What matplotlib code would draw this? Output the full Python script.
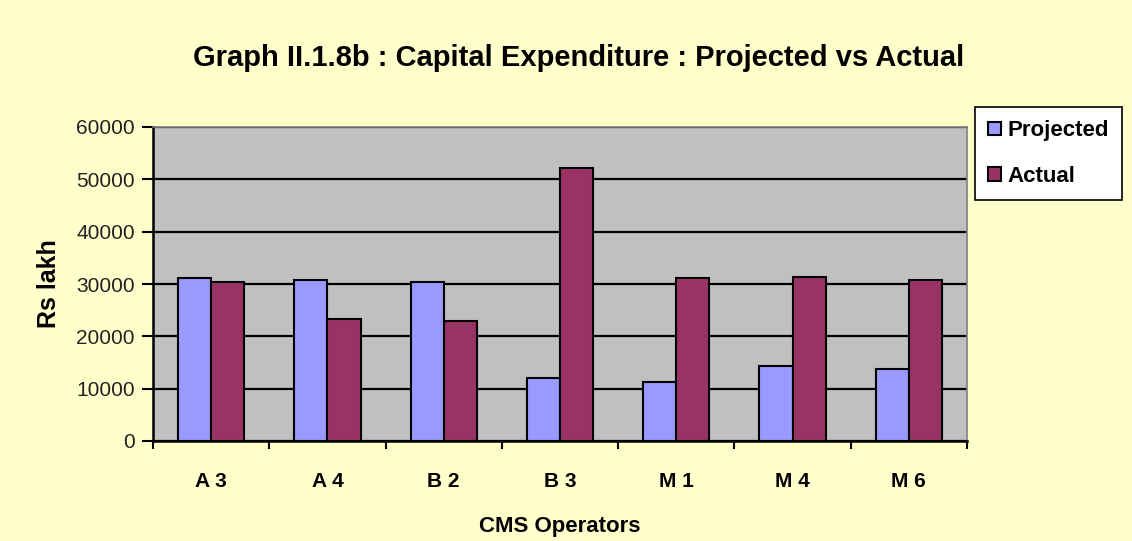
import matplotlib.pyplot as plt
import numpy as np

operators = ['A 3', 'A 4', 'B 2', 'B 3', 'M 1', 'M 4', 'M 6']
projected = [31200, 30700, 30300, 12000, 11200, 14300, 13800]
actual = [30400, 23400, 23000, 52100, 31200, 31300, 30700]
y_ticks = [0, 10000, 20000, 30000, 40000, 50000, 60000]

plt.rcParams['font.family'] = ['Liberation Sans', 'DejaVu Sans']

fig = plt.figure(figsize=(11.32, 5.41), dpi=100, facecolor='#FFFFCC')
ax = fig.add_axes([153 / 1132, 100 / 541, 814 / 1132, 314 / 541])
ax.set_facecolor('#C0C0C0')

x = np.arange(len(operators))
w = 0.285
ax.bar(x - w / 2, projected, w, color='#9999FF', edgecolor='black', linewidth=1.5,
       label='Projected', zorder=3)
ax.bar(x + w / 2, actual, w, color='#993366', edgecolor='black', linewidth=1.5,
       label='Actual', zorder=3)

ax.set_xlim(-0.5, len(operators) - 0.5)
ax.set_ylim(0, 60000)
ax.set_yticks(y_ticks)
ax.set_yticklabels([str(v) for v in y_ticks], fontsize=15, color='#222222')
ax.yaxis.grid(True, color='black', linewidth=1.6, zorder=1)
ax.set_axisbelow(True)

# category labels at centers, tick marks at boundaries
ax.set_xticks(x)
ax.set_xticklabels(operators, fontsize=15, fontweight='bold')
ax.tick_params(axis='x', which='major', length=0, pad=22)
ax.set_xticks(np.arange(len(operators) + 1) - 0.5, minor=True)
ax.tick_params(axis='x', which='minor', length=6, width=1.5, direction='out')
ax.tick_params(axis='y', length=8, width=1.5, direction='out', pad=5)

for side in ['left', 'bottom']:
    ax.spines[side].set_linewidth(1.8)
    ax.spines[side].set_color('black')
for side in ['top', 'right']:
    ax.spines[side].set_color('#808080')
    ax.spines[side].set_linewidth(1.2)

ax.set_xlabel('CMS Operators', fontsize=16, fontweight='bold', labelpad=18)
ax.set_ylabel('Rs lakh', fontsize=18, fontweight='bold', labelpad=11)
fig.text(0.511, 0.893, 'Graph II.1.8b : Capital Expenditure : Projected vs Actual',
         ha='center', va='center', fontsize=21, fontweight='bold')

leg = fig.legend(loc='upper left', bbox_to_anchor=(975 / 1132, 1 - 107 / 541),
                 prop={'weight': 'bold', 'size': 16}, frameon=True,
                 fancybox=False, edgecolor='black', facecolor='white', framealpha=1,
                 handlelength=0.55, handleheight=0.55, handletextpad=0.3,
                 labelspacing=1.1, borderpad=0.6, borderaxespad=0)
leg.get_frame().set_linewidth(1.2)

plt.savefig('out.png', dpi=100, facecolor=fig.get_facecolor())
